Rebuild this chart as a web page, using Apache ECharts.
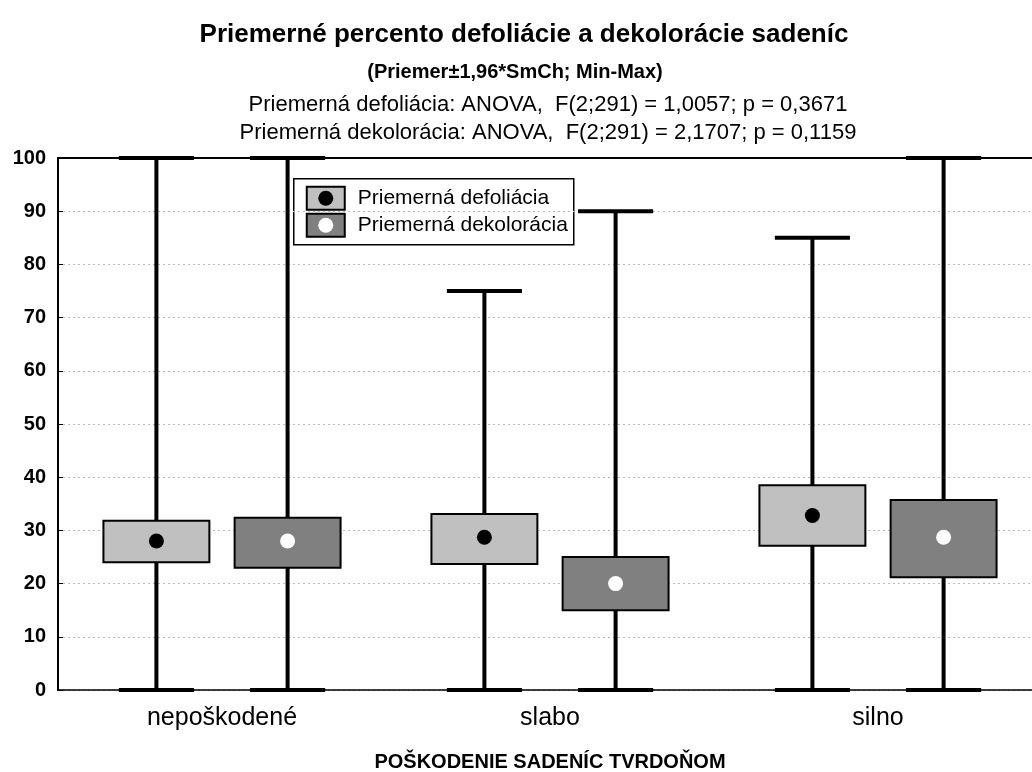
<!DOCTYPE html>
<html>
<head>
<meta charset="utf-8">
<script src="https://cdn.jsdelivr.net/npm/echarts@6/dist/echarts.min.js"></script>
<style>
  html, body { margin: 0; padding: 0; background: #fff; }
  #main { width: 1032px; height: 772px; }
</style>
</head>
<body>
<div id="main"></div>
<script>
// kategórie na osi X
const kategorie = ['nepoškodené', 'slabo', 'silno'];

// Priemerná defoliácia: priemer, priemer ± 1,96*SmCh, min, max
const defolPriemer = [28.0, 28.7, 32.8];
const defolDolna = [24.0, 23.7, 27.1];
const defolHorna = [31.8, 33.1, 38.5];
const defolMin = [0, 0, 0];
const defolMax = [100, 75, 85];

// Priemerná dekolorácia
const dekolPriemer = [28.0, 20.0, 28.7];
const dekolDolna = [23.0, 15.0, 21.2];
const dekolHorna = [32.4, 25.0, 35.7];
const dekolMin = [0, 0, 0];
const dekolMax = [100, 90, 100];

const yTicky = [0, 10, 20, 30, 40, 50, 60, 70, 80, 90, 100];

const pismo = 'Liberation Sans, Arial, sans-serif';

function zloz(priemer, dolna, horna, mn, mx) {
    return kategorie.map((k, i) => [i, mn[i], dolna[i], priemer[i], horna[i], mx[i]]);
}

function krabica(posun, farba, bodka) {
    return function (params, api) {
        let i = api.value(0);
        let pasmo = api.size([1, 0])[0];
        let cx = api.coord([i, 0])[0] + posun * pasmo;
        let yMin = api.coord([i, api.value(1)])[1];
        let yDol = api.coord([i, api.value(2)])[1];
        let yPri = api.coord([i, api.value(3)])[1];
        let yHor = api.coord([i, api.value(4)])[1];
        let yMax = api.coord([i, api.value(5)])[1];
        let sirka = pasmo * 0.323;
        let viecko = pasmo * 0.229;
        return {
            type: 'group',
            children: [
                { type: 'line', shape: { x1: cx, y1: yMin, x2: cx, y2: yMax }, style: { stroke: '#000', lineWidth: 4 } },
                { type: 'line', shape: { x1: cx - viecko / 2, y1: yMax, x2: cx + viecko / 2, y2: yMax }, style: { stroke: '#000', lineWidth: 4 } },
                { type: 'line', shape: { x1: cx - viecko / 2, y1: yMin, x2: cx + viecko / 2, y2: yMin }, style: { stroke: '#000', lineWidth: 4 } },
                { type: 'rect', shape: { x: cx - sirka / 2, y: yHor, width: sirka, height: yDol - yHor }, style: { fill: farba, stroke: '#000', lineWidth: 2 } },
                { type: 'circle', shape: { cx: cx, cy: yPri, r: 7.5 }, style: { fill: bodka } }
            ]
        };
    };
}

let chart = echarts.init(document.getElementById('main'), null, { renderer: 'canvas' });

const option = {
    backgroundColor: '#fff',
    animation: false,
    textStyle: { fontFamily: pismo, color: '#000' },
    title: [
        {
            text: 'Priemerné percento defoliácie a dekolorácie sadeníc',
            left: 519, top: 17, textAlign: 'center',
            textStyle: { fontSize: 26, fontWeight: 'bold', color: '#000' }
        },
        {
            text: '(Priemer±1,96*SmCh; Min-Max)',
            left: 510, top: 57, textAlign: 'center',
            textStyle: { fontSize: 20, fontWeight: 'bold', color: '#000' }
        },
        {
            text: 'Priemerná defoliácia: ANOVA,  F(2;291) = 1,0057; p = 0,3671',
            left: 543, top: 89, textAlign: 'center',
            textStyle: { fontSize: 22, fontWeight: 'normal', color: '#000' }
        },
        {
            text: 'Priemerná dekolorácia: ANOVA,  F(2;291) = 2,1707; p = 0,1159',
            left: 543, top: 117, textAlign: 'center',
            textStyle: { fontSize: 22, fontWeight: 'normal', color: '#000' }
        }
    ],
    grid: { left: 58, top: 158, bottom: 82, width: 984, containLabel: false, outerBoundsMode: 'none' },
    xAxis: [
        {
            type: 'category',
            data: kategorie,
            position: 'bottom',
            name: 'POŠKODENIE SADENÍC TVRDOŇOM',
            nameLocation: 'middle',
            nameGap: 62,
            nameTextStyle: { fontSize: 20, fontWeight: 'bold', color: '#000' },
            axisLine: { lineStyle: { color: '#000', width: 1.5 } },
            axisTick: { show: false },
            axisLabel: { fontSize: 25, color: '#000', margin: 16 },
            splitLine: { show: false }
        },
        {
            type: 'category',
            data: kategorie,
            position: 'top',
            axisLine: { lineStyle: { color: '#000', width: 2 } },
            axisTick: { show: false },
            axisLabel: { show: false }
        }
    ],
    yAxis: {
        type: 'value',
        min: 0, max: 100, interval: 10,
        axisLine: { show: true, lineStyle: { color: '#000', width: 2 } },
        axisTick: { show: true, inside: true, length: 5, lineStyle: { color: '#000' } },
        axisLabel: { fontSize: 20, fontWeight: 'bold', color: '#000', margin: 12,
            formatter: v => yTicky.includes(v) ? String(v) : '' },
        splitLine: { show: true, lineStyle: { color: '#bbb', type: [2, 3], width: 1 } }
    },
    series: [
        {
            name: 'Priemerná defoliácia',
            type: 'custom',
            renderItem: krabica(-0.2, '#c0c0c0', '#000'),
            encode: { x: 0, y: [1, 2, 3, 4, 5] },
            data: zloz(defolPriemer, defolDolna, defolHorna, defolMin, defolMax),
            z: 3
        },
        {
            name: 'Priemerná dekolorácia',
            type: 'custom',
            renderItem: krabica(0.2, '#808080', '#fff'),
            encode: { x: 0, y: [1, 2, 3, 4, 5] },
            data: zloz(dekolPriemer, dekolDolna, dekolHorna, dekolMin, dekolMax),
            z: 3
        }
    ],
    graphic: [
        {
            type: 'group',
            left: 293, top: 178,
            z: 100,
            children: [
                { type: 'rect', shape: { x: 0, y: 0, width: 280, height: 66 }, style: { fill: '#fff', stroke: '#000', lineWidth: 1.5 } },
                { type: 'rect', shape: { x: 13, y: 8, width: 38, height: 23 }, style: { fill: '#c0c0c0', stroke: '#000', lineWidth: 2 } },
                { type: 'circle', shape: { cx: 32, cy: 19.5, r: 7.5 }, style: { fill: '#000' } },
                { type: 'text', x: 64, y: 19.5, style: { text: 'Priemerná defoliácia', fontSize: 21, fontFamily: pismo, fill: '#000', verticalAlign: 'middle' } },
                { type: 'rect', shape: { x: 13, y: 35, width: 38, height: 23 }, style: { fill: '#808080', stroke: '#000', lineWidth: 2 } },
                { type: 'circle', shape: { cx: 32, cy: 46.5, r: 7.5 }, style: { fill: '#fff' } },
                { type: 'text', x: 64, y: 46.5, style: { text: 'Priemerná dekolorácia', fontSize: 21, fontFamily: pismo, fill: '#000', verticalAlign: 'middle' } }
            ]
        }
    ]
};

chart.setOption(option);
</script>
</body>
</html>
